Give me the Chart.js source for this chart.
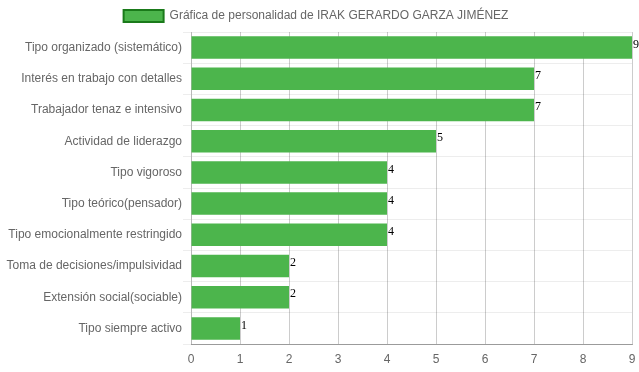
<!DOCTYPE html>
<html>
<head>
<meta charset="utf-8">
<script src="https://cdn.jsdelivr.net/npm/chart.js@4/dist/chart.umd.min.js"></script>
<style>
  html, body { margin: 0; padding: 0; background: #fff; }
  #wrap { width: 639px; height: 372px; }
</style>
</head>
<body>
<div id="wrap"><canvas id="grafica"></canvas></div>
<script>
const categorias = [
  "Tipo organizado (sistemático)",
  "Interés en trabajo con detalles",
  "Trabajador tenaz e intensivo",
  "Actividad de liderazgo",
  "Tipo vigoroso",
  "Tipo teórico(pensador)",
  "Tipo emocionalmente restringido",
  "Toma de decisiones/impulsividad",
  "Extensión social(sociable)",
  "Tipo siempre activo"
];
const puntajes = [9, 7, 7, 5, 4, 4, 4, 2, 2, 1];
const titulo = "Gráfica de personalidad de IRAK GERARDO GARZA JIMÉNEZ";

// pinta el valor al final de cada barra
const etiquetas = {
  id: "etiquetas",
  afterDatasetsDraw(chart){
    const ctx = chart.ctx;
    const meta = chart.getDatasetMeta(0);
    ctx.save();
    ctx.font = "12px 'Liberation Serif', 'Times New Roman', serif";
    ctx.fillStyle = "#000";
    ctx.textAlign = "left";
    ctx.textBaseline = "middle";
    meta.data.forEach((bar, i) => {
      ctx.fillText(String(puntajes[i]), bar.x + 1, bar.y - 3);
    });
    ctx.restore();
  }
};

Chart.defaults.font.family = "'Liberation Sans', Arial, sans-serif";
Chart.defaults.font.size = 12;
Chart.defaults.color = "#666";

new Chart(document.getElementById("grafica"), {
  type: "bar",
  data: {
    labels: categorias,
    datasets: [{
      label: titulo,
      data: puntajes,
      backgroundColor: "#4cb54c",
      borderWidth: 0
    }]
  },
  options: {
    indexAxis: "y",
    responsive: true,
    maintainAspectRatio: false,
    animation: false,
    layout: { padding: { right: 7, left: 0, top: 0, bottom: 0 } },
    plugins: {
      legend: {
        labels: {
          boxWidth: 40,
          boxHeight: 12,
          padding: 10,
          generateLabels(chart){
            return [{
              text: titulo,
              fillStyle: "#4cb54c",
              strokeStyle: "#1a7a1a",
              lineWidth: 2,
              fontColor: "#666",
              datasetIndex: 0
            }];
          }
        }
      },
      tooltip: { enabled: false }
    },
    scales: {
      x: {
        min: 0,
        max: 9,
        ticks: { stepSize: 1, color: "#666", padding: 8 },
        grid: { color: "rgba(0,0,0,0.2)", drawTicks: false },
        border: { color: "rgba(0,0,0,0.35)" },
        afterFit(scale){
          scale.height = 28;
          scale.paddingRight = 0;
          scale.paddingLeft = 0;
        }
      },
      y: {
        ticks: { color: "#666", padding: 1 },
        grid: { color: "rgba(0,0,0,0.07)", offset: true, drawTicks: true, tickLength: 8 },
        border: { color: "rgba(0,0,0,0.1)" },
        afterFit(scale){ scale.width = 191; }
      }
    }
  },
  plugins: [etiquetas]
});
</script>
</body>
</html>
